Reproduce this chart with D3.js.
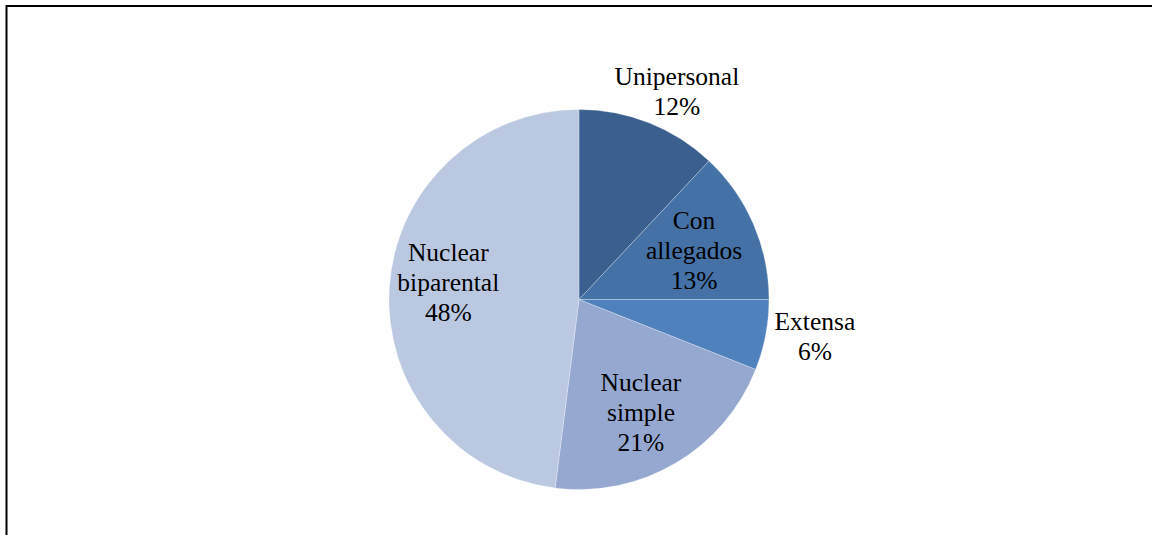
<!DOCTYPE html>
<html>
<head>
<meta charset="utf-8">
<script src="https://cdn.jsdelivr.net/npm/d3@7"></script>
<style>
  html, body { margin: 0; padding: 0; background: #ffffff; }
  svg { display: block; }
</style>
</head>
<body>
<svg id="chart" width="1152" height="535"></svg>
<script>
// Household composition shares (percent)
const categories = ["Unipersonal", "Con allegados", "Extensa", "Nuclear simple", "Nuclear biparental"];
const values = [12, 13, 6, 21, 48];
const labelLines = [
  ["Unipersonal"],
  ["Con", "allegados"],
  ["Extensa"],
  ["Nuclear", "simple"],
  ["Nuclear", "biparental"]
];
const colors = ["#3b5f8e", "#4471a6", "#4f81bd", "#95a8d0", "#bbc8e2"];

const svg = d3.select("#chart");
const W = 1152, H = 535;

// outer frame (open at right and bottom edges)
svg.append("path")
  .attr("d", `M6.5,${H} L6.5,6 L${W},6`)
  .attr("fill", "none")
  .attr("stroke", "#000")
  .attr("stroke-width", 2);

const cx = 579, cy = 299.5, r = 190;

const data = categories.map((c, i) => ({ name: c, value: values[i], lines: labelLines[i], color: colors[i] }));

const pie = d3.pie().value(d => d.value).sort(null);
const arc = d3.arc().innerRadius(0).outerRadius(r);
const arcs = pie(data);

const g = svg.append("g").attr("transform", `translate(${cx},${cy})`);

g.selectAll("path.slice")
  .data(arcs)
  .join("path")
  .attr("class", "slice")
  .attr("d", arc)
  .attr("fill", d => d.data.color)
  .attr("stroke", "rgba(255,255,255,0.35)")
  .attr("stroke-width", 0.75);

// label anchors: radius factor along the slice bisector plus a small nudge
const labelRadius = [1.1, 0.66, 1.28, 0.62, 0.7];
const labelNudge = [[21, -14], [0, 0], [-3, -9], [2, 11], [2, -9]];
const lineH = 30;
const fontSize = 25.5;

arcs.forEach((a, i) => {
  const mid = (a.startAngle + a.endAngle) / 2;
  const rr = r * labelRadius[i];
  const x = Math.sin(mid) * rr + labelNudge[i][0];
  const y = -Math.cos(mid) * rr + labelNudge[i][1];
  const lines = a.data.lines.concat([d3.format(".0%")(a.data.value / 100)]);
  const t = g.append("text")
    .attr("text-anchor", "middle")
    .attr("font-family", "'Liberation Serif', 'Times New Roman', serif")
    .attr("font-size", fontSize)
    .attr("fill", "#000");
  const top = y - (lines.length - 1) * lineH / 2;
  lines.forEach((ln, k) => {
    t.append("tspan")
      .attr("x", x)
      .attr("y", top + k * lineH)
      .attr("dy", "0.35em")
      .text(ln);
  });
});
</script>
</body>
</html>
